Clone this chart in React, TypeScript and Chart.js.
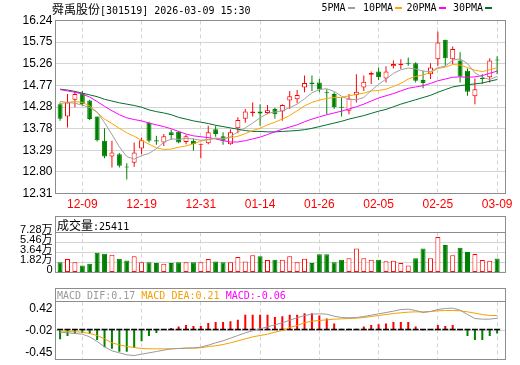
import React, { useEffect, useRef } from "react";
import { Chart, registerables } from "chart.js";

Chart.register(...registerables);

// ---------------- data ----------------
const stockName = "舜禹股份";
const stockCode = "301519";
const quoteTime = "2026-03-09 15:30";

const dates = [
  "12-04","12-05","12-08","12-09","12-10","12-11","12-12","12-15","12-16","12-17",
  "12-18","12-19","12-22","12-23","12-24","12-25","12-26","12-29","12-30","12-31",
  "01-05","01-06","01-07","01-08","01-09","01-12","01-13","01-14","01-15","01-16",
  "01-19","01-20","01-21","01-22","01-23","01-26","01-27","01-28","01-29","01-30",
  "02-02","02-03","02-04","02-05","02-06","02-09","02-10","02-11","02-12","02-13",
  "02-24","02-25","02-26","02-27","03-02","03-03","03-04","03-05","03-06","03-09",
];
const dateTickIndex = [3, 11, 19, 27, 35, 43, 51, 59];

const opens = [
  14.34,14.06,14.44,14.59,14.42,14.06,13.51,13.15,13.20,12.92,
  13.01,13.33,13.92,13.52,13.47,13.70,13.71,13.48,13.51,13.42,
  13.45,13.77,13.61,13.43,13.79,14.01,14.14,14.17,14.14,14.23,
  14.17,14.42,14.45,14.72,14.83,14.83,14.61,14.57,14.28,14.19,
  14.55,14.72,15.01,15.08,14.92,15.20,15.23,15.26,15.27,14.89,
  15.02,15.36,15.80,15.36,15.33,15.10,14.52,14.91,14.95,15.35,
];
const highs = [
  14.38,14.57,14.64,14.64,14.44,14.06,13.79,13.51,13.23,13.00,
  13.47,13.58,13.94,13.62,13.66,13.76,13.73,13.64,13.56,13.44,
  13.85,13.85,13.70,13.77,14.04,14.23,14.38,14.34,14.32,14.26,
  14.34,14.64,14.66,14.99,14.99,14.91,14.68,14.61,14.49,14.57,
  15.02,14.99,15.08,15.17,15.20,15.33,15.36,15.40,15.29,15.10,
  15.27,15.99,15.80,15.65,15.52,15.15,14.92,15.02,15.38,15.43,
];
const lows = [
  13.96,13.81,14.27,14.30,13.98,13.49,13.11,12.90,12.90,12.63,
  12.92,13.20,13.47,13.42,13.39,13.53,13.45,13.43,13.28,13.11,
  13.43,13.60,13.42,13.42,13.68,13.92,14.06,13.85,14.11,14.01,
  13.96,14.23,14.36,14.61,14.64,14.61,14.11,14.23,14.06,14.11,
  14.38,14.64,14.80,14.89,14.83,15.15,15.14,15.21,14.83,14.70,
  14.91,15.21,15.21,15.25,14.83,14.53,14.34,14.80,14.83,15.02,
];
const closes = [
  14.01,14.38,14.57,14.34,14.00,13.52,13.15,13.24,12.94,12.90,
  13.24,13.52,13.51,13.49,13.61,13.64,13.47,13.61,13.43,13.44,
  13.70,13.66,13.51,13.70,13.98,14.17,14.17,14.13,14.20,14.11,
  14.32,14.52,14.55,14.82,14.80,14.67,14.59,14.27,14.26,14.47,
  14.62,14.85,15.05,14.95,15.08,15.25,15.26,15.26,14.87,14.82,
  15.17,15.74,15.38,15.59,14.97,14.62,14.68,14.91,15.33,15.33,
];

const ma5 = [
  14.40,14.38,14.36,14.32,14.26,14.16,13.92,13.65,13.37,13.15,
  13.09,13.17,13.22,13.33,13.47,13.55,13.54,13.56,13.55,13.52,
  13.53,13.57,13.55,13.60,13.71,13.80,13.91,14.03,14.13,14.16,
  14.19,14.26,14.34,14.46,14.60,14.67,14.69,14.63,14.52,14.45,
  14.44,14.49,14.65,14.79,14.91,15.04,15.12,15.16,15.14,15.09,
  15.08,15.17,15.20,15.34,15.37,15.26,15.05,14.95,14.90,14.97,
];
const ma10 = [
  14.35,14.38,14.40,14.38,14.30,14.15,14.00,13.90,13.79,13.69,
  13.61,13.52,13.43,13.35,13.31,13.32,13.36,13.39,13.44,13.50,
  13.54,13.56,13.56,13.58,13.61,13.67,13.74,13.79,13.87,13.93,
  14.00,14.08,14.19,14.30,14.38,14.43,14.47,14.49,14.49,14.53,
  14.56,14.59,14.64,14.65,14.68,14.74,14.81,14.91,14.97,15.00,
  15.06,15.15,15.18,15.24,15.23,15.17,15.11,15.08,15.12,15.17,
];
const ma20 = [
  14.67,14.64,14.61,14.57,14.50,14.40,14.29,14.19,14.10,14.03,
  13.99,13.96,13.91,13.87,13.83,13.78,13.72,13.66,13.62,13.60,
  13.58,13.55,13.51,13.48,13.48,13.51,13.55,13.59,13.65,13.71,
  13.77,13.82,13.87,13.94,14.00,14.05,14.10,14.14,14.18,14.23,
  14.28,14.34,14.41,14.48,14.53,14.58,14.64,14.70,14.73,14.76,
  14.81,14.87,14.91,14.95,14.96,14.95,14.96,14.99,15.04,15.09,
];
const ma30 = [
  14.68,14.66,14.63,14.59,14.55,14.51,14.45,14.41,14.37,14.34,
  14.31,14.27,14.21,14.17,14.14,14.10,14.04,14.00,13.96,13.93,
  13.90,13.86,13.83,13.80,13.77,13.74,13.72,13.72,13.71,13.71,
  13.72,13.73,13.74,13.76,13.79,13.83,13.87,13.91,13.95,14.00,
  14.04,14.08,14.13,14.18,14.22,14.28,14.34,14.39,14.44,14.49,
  14.54,14.61,14.67,14.73,14.76,14.78,14.80,14.82,14.86,14.90,
];

const volumes = [
  18700,24400,18700,12400,15600,35800,34200,32100,24900,21800,
  29600,18700,18700,17100,15600,17100,18700,18700,18700,18700,
  24400,19700,18700,18700,28000,19700,31100,29600,22800,23300,
  23300,29600,18700,24900,17100,33200,33200,18700,23300,25900,
  43600,25900,23300,23300,20200,21300,17100,12400,25900,43600,
  25900,64800,49800,31100,45100,37300,33700,22800,21300,25411,
];

const dif = [
  -0.04,-0.05,-0.06,-0.07,-0.11,-0.18,-0.26,-0.32,-0.35,-0.38,
  -0.39,-0.37,-0.35,-0.33,-0.31,-0.29,-0.285,-0.28,-0.275,-0.265,
  -0.235,-0.20,-0.17,-0.13,-0.09,-0.05,-0.02,0.01,0.04,0.07,
  0.10,0.14,0.175,0.21,0.23,0.235,0.23,0.20,0.18,0.175,
  0.18,0.195,0.215,0.235,0.255,0.275,0.30,0.305,0.285,0.255,
  0.27,0.30,0.315,0.32,0.29,0.225,0.165,0.155,0.155,0.17,
];
const dea = [
  -0.02,-0.03,-0.035,-0.04,-0.06,-0.09,-0.14,-0.20,-0.23,-0.255,
  -0.27,-0.285,-0.29,-0.29,-0.29,-0.29,-0.285,-0.28,-0.28,-0.275,
  -0.255,-0.245,-0.225,-0.20,-0.17,-0.14,-0.11,-0.09,-0.07,-0.04,
  -0.015,0.03,0.06,0.10,0.125,0.135,0.145,0.155,0.16,0.165,
  0.17,0.18,0.195,0.21,0.225,0.24,0.25,0.26,0.265,0.265,
  0.27,0.28,0.285,0.285,0.28,0.265,0.245,0.225,0.21,0.21,
];
const macd = [
  -0.147,-0.098,-0.067,-0.053,-0.067,-0.156,-0.267,-0.289,-0.333,-0.333,
  -0.276,-0.178,-0.098,-0.053,-0.009,0.022,0.044,0.067,0.053,0.053,
  0.098,0.111,0.111,0.124,0.147,0.222,0.222,0.222,0.222,0.187,
  0.2,0.222,0.222,0.244,0.244,0.209,0.164,0.089,0.013,0.013,
  0.013,0.044,0.067,0.08,0.089,0.111,0.111,0.111,0.044,-0.013,
  0.004,0.067,0.053,0.067,-0.013,-0.098,-0.156,-0.156,-0.098,-0.06,
];

const priceMin = 12.31;
const priceMax = 16.24;
const priceTickLabels = ["12.31","12.80","13.29","13.78","14.28","14.77","15.26","15.75","16.24"];
const volTickValues = [0, 18200, 36400, 54600, 72800];
const volTickLabels = ["0", "1.82万", "3.64万", "5.46万", "7.28万"];
const macdTickValues = [0.42, -0.015, -0.45];
const macdTickLabels = ["0.42", "-0.02", "-0.45"];

const maNames = ["5PMA", "10PMA", "20PMA", "30PMA"];

// ---------------- style ----------------
const RED = "#ff0000";
const GREEN = "#008000";
const FRAME = "#8c8c8c";
const GRID = "#d4d4d4";
const MA_COLORS = ["#a0a0a0", "#ffa500", "#ff00ff", "#00702e"];
const SANS = '"Liberation Sans", Arial, "Noto Sans CJK SC", sans-serif';
const CJK = '"Noto Sans CJK SC", sans-serif';
const MONO = '"DejaVu Sans Mono", "Liberation Mono", monospace';

const X_MIN = -0.62;
const X_MAX = 60.13;
const LEFT_W = 55.5;
const RIGHT_PAD = 14.5;

const framePlugin = {
  id: "frame",
  afterDraw(chart: any) {
    const { ctx, chartArea: a } = chart;
    ctx.save();
    ctx.strokeStyle = FRAME;
    ctx.lineWidth = 1;
    ctx.strokeRect(a.left, a.top, a.right - a.left, a.bottom - a.top);
    ctx.restore();
  },
};

const macdLabelPlugin = {
  id: "macdLabels",
  afterDraw(chart: any) {
    const { ctx, chartArea: a } = chart;
    const y = chart.scales.y;
    ctx.save();
    ctx.font = `12px ${SANS}`;
    ctx.fillStyle = "#000";
    ctx.textAlign = "right";
    const last = macdTickValues.length - 1;
    macdTickValues.forEach((v, k) => {
      const py = y.getPixelForValue(v);
      if (k === 0) {
        ctx.textBaseline = "top";
        ctx.fillText(macdTickLabels[k], a.left - 3, py + 1);
      } else if (k === last) {
        ctx.textBaseline = "bottom";
        ctx.fillText(macdTickLabels[k], a.left - 3, py - 0.5);
      } else {
        ctx.textBaseline = "middle";
        ctx.fillText(macdTickLabels[k], a.left - 3, py);
      }
    });
    ctx.restore();
  },
};

function xAxis(showLabels: boolean, height: number) {
  return {
    type: "linear",
    min: X_MIN,
    max: X_MAX,
    offset: false,
    afterBuildTicks: (scale: any) => {
      scale.ticks = dateTickIndex.map((v) => ({ value: v }));
    },
    afterFit: (scale: any) => {
      scale.height = height;
    },
    grid: { color: GRID, drawTicks: false, lineWidth: 1, offset: false },
    border: { display: false, dash: [4, 3] },
    ticks: {
      display: showLabels,
      autoSkip: false,
      maxRotation: 0,
      color: RED,
      padding: 4,
      font: { family: SANS, size: 12 },
      callback: (v: any) => dates[v as number],
    },
  };
}

const isUp = (i: number) => closes[i] > opens[i];
const volUp = (i: number) => closes[i] >= opens[i];

function baseOptions(padTop: number, padBottom: number) {
  return {
    responsive: false,
    animation: false,
    devicePixelRatio: 1,
    events: [],
    layout: { padding: { left: 0, right: RIGHT_PAD, top: padTop, bottom: padBottom } },
    plugins: { legend: { display: false }, tooltip: { enabled: false } },
  };
}

function priceConfig(): any {
  const idx = dates.map((_, i) => i);
  return {
    type: "bar",
    data: {
      datasets: [
        {
          type: "bar",
          data: idx.map((i) => ({ x: i, y: [lows[i], highs[i]] })),
          backgroundColor: idx.map((i) => (isUp(i) ? RED : GREEN)),
          barThickness: 1,
          grouped: false,
          inflateAmount: 0,
          order: 5,
        },
        {
          type: "bar",
          data: idx.map((i) => ({ x: i, y: [opens[i], closes[i]] })),
          backgroundColor: idx.map((i) => (isUp(i) ? "#ffffff" : GREEN)),
          borderColor: idx.map((i) => (isUp(i) ? RED : GREEN)),
          borderWidth: 1,
          borderSkipped: false,
          barThickness: 5,
          minBarLength: 1,
          grouped: false,
          inflateAmount: 0,
          order: 4,
        },
        ...[ma30, ma20, ma10, ma5].map((arr, k) => ({
          type: "line",
          data: idx.map((i) => ({ x: i, y: arr[i] })),
          borderColor: MA_COLORS[3 - k],
          borderWidth: 1,
          pointRadius: 0,
          tension: 0,
          order: 3 - k,
        })),
      ],
    },
    options: {
      ...baseOptions(20.5, 0),
      scales: {
        x: xAxis(true, 20.5),
        y: {
          min: priceMin,
          max: priceMax,
          afterBuildTicks: (scale: any) => {
            const step = (priceMax - priceMin) / (priceTickLabels.length - 1);
            scale.ticks = priceTickLabels.map((_, k) => ({ value: priceMin + k * step }));
          },
          afterFit: (scale: any) => {
            scale.width = LEFT_W;
          },
          grid: { color: GRID, drawTicks: false },
          border: { display: false },
          ticks: {
            color: "#000",
            padding: 3,
            autoSkip: false,
            font: { family: SANS, size: 12 },
            callback: (_v: any, k: number) => priceTickLabels[k],
          },
        },
      },
    },
    plugins: [framePlugin],
  };
}

function volumeConfig(): any {
  const idx = dates.map((_, i) => i);
  return {
    type: "bar",
    data: {
      datasets: [
        {
          type: "bar",
          data: idx.map((i) => ({ x: i, y: volumes[i] })),
          backgroundColor: idx.map((i) => (volUp(i) ? "#ffffff" : GREEN)),
          borderColor: idx.map((i) => (volUp(i) ? RED : GREEN)),
          borderWidth: 1,
          borderSkipped: false,
          barThickness: 5,
          grouped: false,
          inflateAmount: 0,
        },
      ],
    },
    options: {
      ...baseOptions(32.5, 2.5),
      scales: {
        x: xAxis(false, 0),
        y: {
          min: 0,
          max: 72800,
          afterBuildTicks: (scale: any) => {
            scale.ticks = volTickValues.map((v) => ({ value: v }));
          },
          afterFit: (scale: any) => {
            scale.width = LEFT_W;
          },
          grid: { color: GRID, drawTicks: false },
          border: { display: false },
          ticks: {
            color: "#000",
            padding: 3,
            autoSkip: false,
            labelOffset: -2.5,
            font: { family: SANS, size: 11 },
            callback: (_v: any, k: number) => volTickLabels[k],
          },
        },
      },
    },
    plugins: [framePlugin],
  };
}

function macdConfig(): any {
  const idx = dates.map((_, i) => i);
  return {
    type: "bar",
    data: {
      datasets: [
        {
          type: "line",
          data: idx.map((i) => ({ x: i, y: dif[i] })),
          borderColor: "#999999",
          borderWidth: 1,
          pointRadius: 0,
          order: 0,
        },
        {
          type: "line",
          data: idx.map((i) => ({ x: i, y: dea[i] })),
          borderColor: "#f5a000",
          borderWidth: 1,
          pointRadius: 0,
          order: 1,
        },
        {
          type: "line",
          showLine: false,
          data: idx.map((i) => ({ x: i, y: 0 })),
          pointStyle: "line",
          pointRadius: 3,
          pointBorderWidth: 1.5,
          pointBorderColor: "#000000",
          pointBackgroundColor: "#000000",
          order: 2,
        },
        {
          type: "bar",
          data: idx.map((i) => ({ x: i, y: macd[i] })),
          backgroundColor: idx.map((i) => (macd[i] >= 0 ? RED : GREEN)),
          barThickness: 2,
          grouped: false,
          inflateAmount: 0,
          order: 3,
        },
      ],
    },
    options: {
      ...baseOptions(16.5, 0.5),
      scales: {
        x: xAxis(false, 0),
        y: {
          min: -0.45,
          max: 0.42,
          afterBuildTicks: (scale: any) => {
            scale.ticks = macdTickValues.map((v) => ({ value: v }));
          },
          afterFit: (scale: any) => {
            scale.width = LEFT_W;
          },
          grid: { color: GRID, drawTicks: false },
          border: { display: false },
          ticks: { display: false },
        },
      },
    },
    plugins: [framePlugin, macdLabelPlugin],
  };
}

export default function App() {
  const priceRef = useRef<HTMLCanvasElement>(null);
  const volRef = useRef<HTMLCanvasElement>(null);
  const macdRef = useRef<HTMLCanvasElement>(null);

  useEffect(() => {
    const charts: Chart[] = [];
    if (priceRef.current) charts.push(new Chart(priceRef.current, priceConfig()));
    if (volRef.current) charts.push(new Chart(volRef.current, volumeConfig()));
    if (macdRef.current) charts.push(new Chart(macdRef.current, macdConfig()));
    return () => charts.forEach((c) => c.destroy());
  }, []);

  const legendLefts = [321.5, 363, 406.5, 453];
  const last = dates.length - 1;

  return (
    <div
      style={{
        position: "fixed",
        left: 0,
        top: 0,
        width: 520,
        height: 365,
        background: "#ffffff",
        overflow: "hidden",
      }}
    >
      <canvas ref={priceRef} width={520} height={214} style={{ position: "absolute", left: 0, top: 0 }} />
      <canvas ref={volRef} width={520} height={82} style={{ position: "absolute", left: 0, top: 200 }} />
      <canvas ref={macdRef} width={520} height={80} style={{ position: "absolute", left: 0, top: 285 }} />

      {/* title */}
      <div
        style={{
          position: "absolute",
          left: 52,
          top: 1,
          height: 15,
          lineHeight: "15px",
          whiteSpace: "nowrap",
          color: "#000",
        }}
      >
        <span style={{ fontFamily: CJK, fontSize: 12 }}>{stockName}</span>
        <span style={{ fontFamily: MONO, fontSize: 10 }}>
          [{stockCode}] {quoteTime}
        </span>
      </div>

      {/* MA legend */}
      {maNames.map((name, k) => (
        <div
          key={name}
          style={{
            position: "absolute",
            left: legendLefts[k],
            top: 1,
            height: 14,
            lineHeight: "14px",
            whiteSpace: "nowrap",
            fontFamily: MONO,
            fontSize: 10,
            color: "#000",
            display: "flex",
            alignItems: "center",
          }}
        >
          <span>{name}</span>
          <span
            style={{
              display: "inline-block",
              width: 7,
              height: 2,
              marginLeft: 2,
              background: MA_COLORS[k],
            }}
          />
        </div>
      ))}

      {/* volume title box */}
      <div
        style={{
          position: "absolute",
          left: 55,
          top: 216,
          width: 451,
          height: 16,
          boxSizing: "border-box",
          borderTop: `1px solid ${FRAME}`,
          borderLeft: `1px solid ${FRAME}`,
          borderRight: `1px solid ${FRAME}`,
          lineHeight: "15px",
          paddingLeft: 1,
          whiteSpace: "nowrap",
          color: "#000",
        }}
      >
        <span style={{ fontFamily: CJK, fontSize: 12 }}>成交量</span>
        <span style={{ fontFamily: MONO, fontSize: 10 }}>:{volumes[last]}</span>
      </div>

      {/* MACD title box */}
      <div
        style={{
          position: "absolute",
          left: 55,
          top: 288,
          width: 451,
          height: 14,
          boxSizing: "border-box",
          borderTop: `1px solid ${FRAME}`,
          borderLeft: `1px solid ${FRAME}`,
          borderRight: `1px solid ${FRAME}`,
          lineHeight: "13px",
          paddingLeft: 1,
          whiteSpace: "pre",
          fontFamily: MONO,
          fontSize: 10,
        }}
      >
        <span style={{ color: "#999999" }}>MACD_DIF:{dif[last].toFixed(2)} </span>
        <span style={{ color: "#f5a000" }}>MACD_DEA:{dea[last].toFixed(2)} </span>
        <span style={{ color: "#ff00ff" }}>MACD:{macd[last].toFixed(2)}</span>
      </div>
    </div>
  );
}
